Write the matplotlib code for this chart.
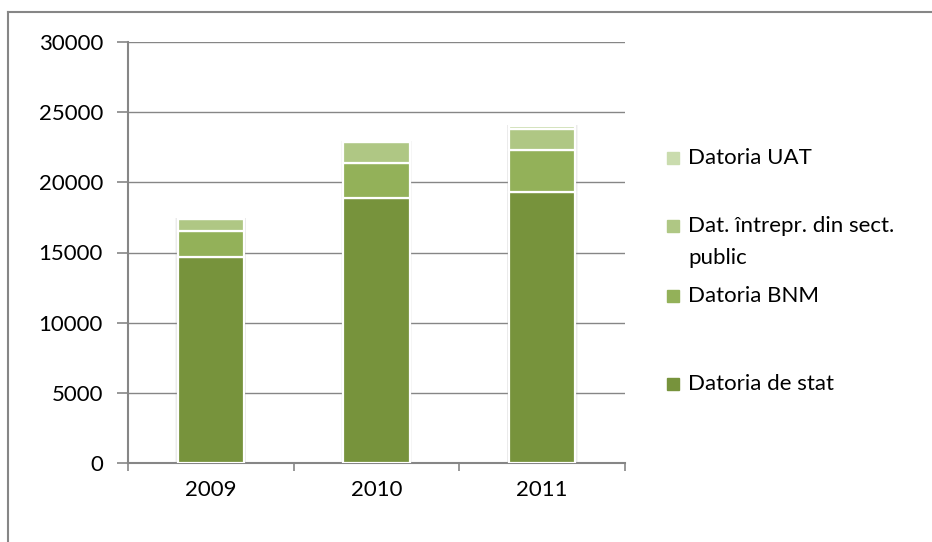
import matplotlib.pyplot as plt
import numpy as np
import matplotlib.patches as mpatches

plt.rcParams['font.family'] = ['Lato', 'DejaVu Sans']

years = ['2009', '2010', '2011']
datoria_stat = [14700, 18900, 19300]
datoria_bnm = [1850, 2500, 3000]
dat_intrepr = [840, 1450, 1480]
datoria_uat = [0, 0, 230]

series = [datoria_stat, datoria_bnm, dat_intrepr, datoria_uat]
colors = ['#77933c', '#93b159', '#afc784', '#cadcae']
labels = ['Datoria de stat', 'Datoria BNM', 'Dat. întrepr. din sect.', 'Datoria UAT']

fig = plt.figure(figsize=(9.32, 5.42), dpi=100)
ax = fig.add_axes([128 / 932, 1 - 463 / 542, 497 / 932, 421 / 542])

x = np.arange(len(years))
width = 0.4

# soft shadow behind the stacks
totals = np.sum(series, axis=0)
for dx, a in [(0.03, 0.08), (0.02, 0.1), (0.01, 0.12)]:
    ax.bar(x, totals + 60, width=width + dx, color='#808080', alpha=a, zorder=1, linewidth=0)

bottom = np.zeros(len(years))
for vals, col in zip(series, colors):
    ax.bar(x, vals, width=width, bottom=bottom, color=col, edgecolor='white', linewidth=1.6, zorder=3)
    bottom += np.array(vals)

ax.set_xlim(-0.5, 2.5)
ax.set_ylim(0, 30000)
ax.set_yticks(np.arange(0, 30001, 5000))
ax.yaxis.grid(True, color='#868686', linewidth=1.0, zorder=0)
ax.set_axisbelow(True)

ax.set_xticks(x)
ax.set_xticklabels(years, fontsize=16)
ax.set_xticks([-0.5, 0.5, 1.5, 2.5], minor=True)
ax.tick_params(axis='x', which='major', length=0, pad=12)
ax.tick_params(axis='x', which='minor', length=6, color='#868686', width=1.2)
ax.tick_params(axis='y', length=8, color='#868686', width=1.2, labelsize=16, pad=10)

for s in ['top', 'right']:
    ax.spines[s].set_visible(False)
for s in ['left', 'bottom']:
    ax.spines[s].set_color('#868686')
    ax.spines[s].set_linewidth(1.5)

# legend drawn by hand
leg_y = [384, 296, 226, 158]
for lab, col, yy in zip(labels, colors, leg_y):
    fig.patches.append(mpatches.Rectangle((667 / 932, 1 - (yy + 6) / 542), 12 / 932, 12 / 542,
                                          color=col, transform=fig.transFigure))
    fig.text(688 / 932, 1 - yy / 542, lab, fontsize=16, va='center', ha='left')
fig.text(688 / 932, 1 - 258 / 542, 'public', fontsize=16, va='center', ha='left')

# chart border
fig.add_artist(plt.Line2D([8 / 932, 8 / 932], [0, 1 - 12 / 542], color='#868686', linewidth=1.5,
                          transform=fig.transFigure))
fig.add_artist(plt.Line2D([8 / 932, 1], [1 - 12 / 542, 1 - 12 / 542], color='#868686', linewidth=1.5,
                          transform=fig.transFigure))

fig.savefig('out.png', dpi=100)
